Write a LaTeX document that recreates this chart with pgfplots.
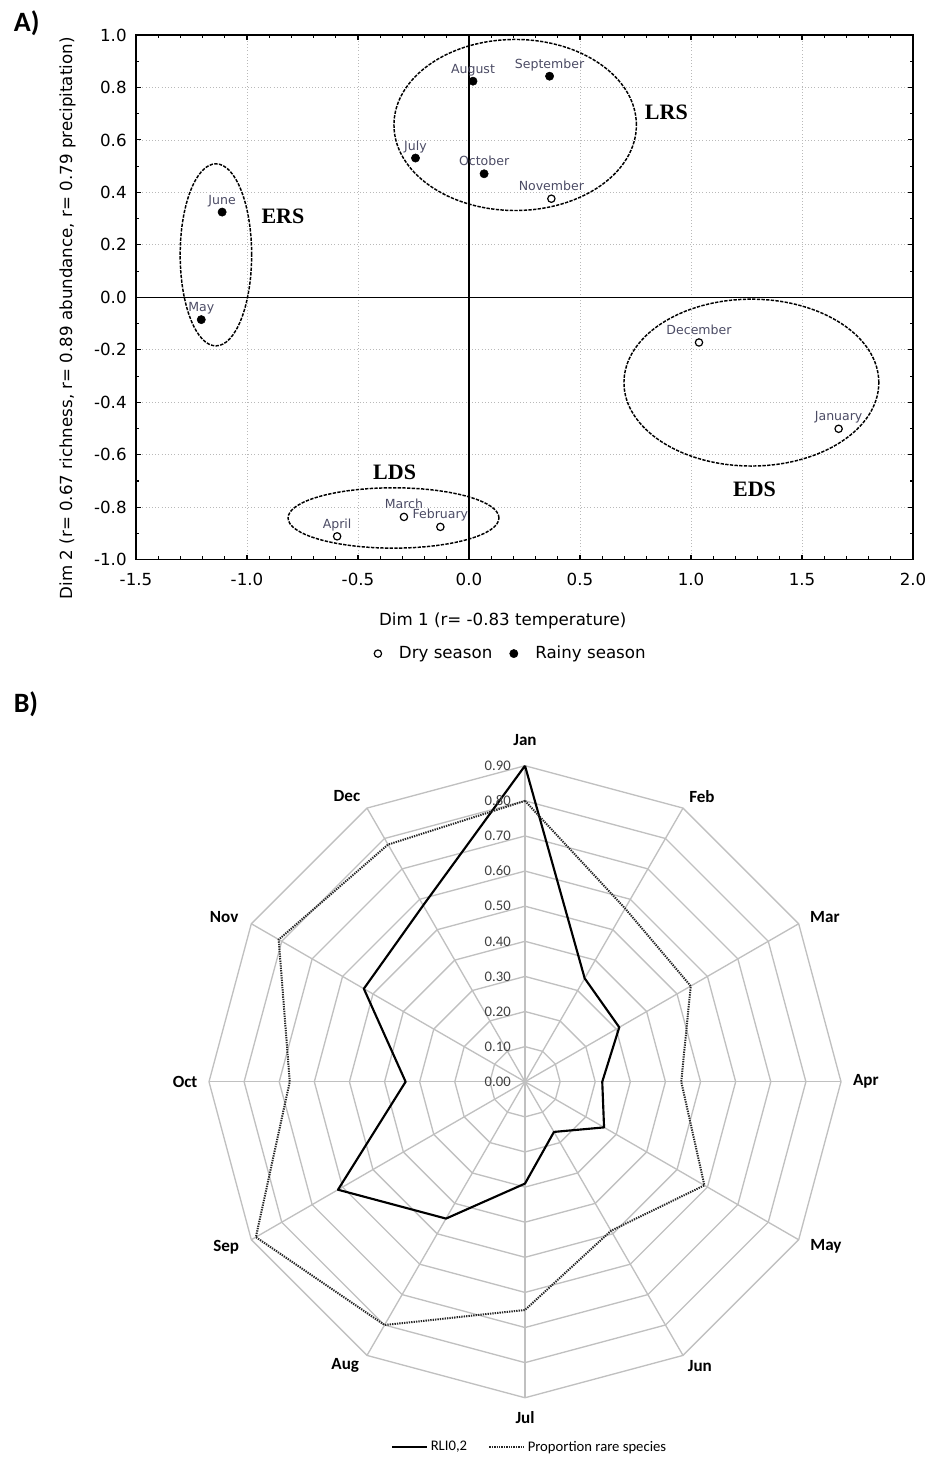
\documentclass[border=0pt]{standalone}
\usepackage{pgfplots}
\pgfplotsset{compat=1.18}
\usepackage{fontspec}
\setmainfont{DejaVu Sans}
\newfontfamily\calibri{Carlito}
\newfontfamily\timesf{Liberation Serif}
\definecolor{lblgray}{RGB}{75,75,100}
\definecolor{gridgray}{RGB}{192,192,192}
\begin{document}
\begin{tikzpicture}
\path[use as bounding box] (0,0) rectangle (700.5pt,-1092.75pt);
\node[font=\calibri\bfseries\fontsize{21}{24}\selectfont] at (20pt,-17.6pt) {A)};
\node[font=\calibri\bfseries\fontsize{21}{24}\selectfont] at (19.5pt,-528.5pt) {B)};

% ---------------- Panel A ----------------
\begin{axis}[
  at={(102pt,-26.25pt)}, anchor=north west,
  scale only axis, width=582.75pt, height=393.5pt,
  xmin=-1.5, xmax=2.0, ymin=-1.0, ymax=1.0,
  xtick={-1.5,-1,-0.5,0,0.5,1,1.5,2},
  ytick={-1,-0.8,-0.6,-0.4,-0.2,0,0.2,0.4,0.6,0.8,1},
  minor x tick num=4, minor y tick num=1,
  tick align=inside,
  major tick length=3.75pt, minor tick length=2.6pt,
  every tick/.style={black, line width=0.8pt},
  axis line style={line width=1.2pt},
  grid=major, major grid style={gray!55, dotted, line width=0.6pt},
  /pgf/number format/assume math mode=true,
  xticklabel style={font=\fontsize{12.5}{15}\selectfont, yshift=-6.5pt, /pgf/number format/.cd, fixed, fixed zerofill, precision=1},
  yticklabel style={font=\fontsize{12.5}{15}\selectfont, xshift=-3.5pt, /pgf/number format/.cd, fixed, fixed zerofill, precision=1},
  xlabel={Dim 1 (r= -0.83 temperature)},
  ylabel={Dim 2 (r= 0.67 richness, r= 0.89 abundance, r= 0.79 precipitation)},
  xlabel style={font=\fontsize{12.5}{15}\selectfont, at={(axis description cs:0.472,-0.117)}, anchor=center},
  ylabel style={font=\fontsize{12.5}{15}\selectfont, at={(axis description cs:-0.088,0.46)}, anchor=center},
  legend columns=2,
  legend style={draw=none, fill=none, at={(axis description cs:0.483,-0.179)}, anchor=center,
    font=\fontsize{12.5}{15}\selectfont,
    /tikz/every odd column/.append style={column sep=11pt},
    /tikz/every even column/.append style={column sep=11pt}},
  clip=false,
]
\addplot[black, line width=1pt, forget plot] coordinates {(-1.5,0) (2,0)};
\addplot[black, line width=1pt, forget plot] coordinates {(0,-1) (0,1)};

\addplot[only marks, mark=o, mark size=2.75pt, mark options={black, line width=0.9pt},
  nodes near coords, point meta=explicit symbolic,
  nodes near coords style={anchor=base, yshift=6pt, inner sep=0pt, font=\fontsize{9.4}{11}\selectfont, text=lblgray}]
  table[meta=lab] {
x y lab
0.371 0.376 November
1.036 -0.172 December
1.665 -0.501 January
-0.129 -0.875 February
-0.293 -0.837 March
-0.594 -0.911 April
};
\addlegendentry{Dry season}
\addplot[only marks, mark=*, mark size=3.1pt, mark options={black, fill=black},
  nodes near coords, point meta=explicit symbolic,
  nodes near coords style={anchor=base, yshift=6pt, inner sep=0pt, font=\fontsize{9.4}{11}\selectfont, text=lblgray}]
  table[meta=lab] {
x y lab
-1.206 -0.085 May
-1.112 0.325 June
-0.241 0.531 July
0.018 0.824 August
0.363 0.843 September
0.068 0.471 October
};
\addlegendentry{Rainy season}

\draw[black, line width=1.1pt, dash pattern=on 2.5pt off 1pt] (axis cs:-1.140,0.162) ellipse [x radius=0.161, y radius=0.347];
\draw[black, line width=1.1pt, dash pattern=on 2.5pt off 1pt] (axis cs:0.208,0.657) ellipse [x radius=0.546, y radius=0.326];
\draw[black, line width=1.1pt, dash pattern=on 2.5pt off 1pt] (axis cs:1.272,-0.325) ellipse [x radius=0.574, y radius=0.318];
\draw[black, line width=1.1pt, dash pattern=on 2.5pt off 1pt] (axis cs:-0.340,-0.841) ellipse [x radius=0.475, y radius=0.115];

\node[font=\timesf\bfseries\fontsize{16.5}{19}\selectfont] at (axis cs:-0.838,0.309) {ERS};
\node[font=\timesf\bfseries\fontsize{16.5}{19}\selectfont] at (axis cs:0.889,0.707) {LRS};
\node[font=\timesf\bfseries\fontsize{16.5}{19}\selectfont] at (axis cs:1.286,-0.732) {EDS};
\node[font=\timesf\bfseries\fontsize{16.5}{19}\selectfont] at (axis cs:-0.335,-0.666) {LDS};
\end{axis}

% ---------------- Panel B ----------------
\begin{axis}[
  at={(393.75pt,-811.3pt)}, anchor=center,
  scale only axis, width=474pt, height=474pt,
  xmin=-0.9, xmax=0.9, ymin=-0.9, ymax=0.9,
  hide axis, clip=false,
  legend columns=2,
  legend style={draw=none, fill=none, at={(axis description cs:0.508,-0.078)}, anchor=center,
    font=\calibri\fontsize{11}{13}\selectfont,
    /tikz/every odd column/.append style={column sep=0pt},
    /tikz/every even column/.append style={column sep=14pt}},
  legend image code/.code={\draw[#1] (0pt,0pt) -- (26pt,0pt);},
]
\pgfplotsinvokeforeach{0.1,0.2,0.3,0.4,0.5,0.6,0.7,0.8,0.9}{
\addplot[gridgray, line width=1pt, mark=none, data cs=polar, forget plot] coordinates {(90,#1) (60,#1) (30,#1) (0,#1) (-30,#1) (-60,#1) (-90,#1) (-120,#1) (-150,#1) (180,#1) (150,#1) (120,#1) (90,#1)};
}
\pgfplotsinvokeforeach{90,60,30,0,-30,-60}{
\addplot[gridgray, line width=1pt, mark=none, data cs=polar, forget plot] coordinates {(#1,0.9) (#1+180,0.9)};
}

\addplot[black, line width=1.6pt, mark=none, line join=round, data cs=polar] coordinates {
(90,0.90) (60,0.34) (30,0.31) (0,0.22) (-30,0.26) (-60,0.165) (-90,0.29)
(-120,0.45) (-150,0.615) (180,0.34) (150,0.53) (120,0.58) (90,0.90)};
\addlegendentry{RLI0,2}
\addplot[black!85, line width=1.5pt, mark=none, dash pattern=on 1pt off 0.8pt, data cs=polar] coordinates {
(90,0.80) (60,0.57) (30,0.545) (0,0.445) (-30,0.59) (-60,0.49) (-90,0.65)
(-120,0.80) (-150,0.885) (180,0.67) (150,0.81) (120,0.78) (90,0.80)};
\addlegendentry{Proportion rare species}

\node[anchor=east, inner sep=0pt, font=\calibri\fontsize{11}{13}\selectfont, text=black!75] at (axis cs:-0.04,0.0) {0.00};
\node[anchor=east, inner sep=0pt, font=\calibri\fontsize{11}{13}\selectfont, text=black!75] at (axis cs:-0.04,0.1) {0.10};
\node[anchor=east, inner sep=0pt, font=\calibri\fontsize{11}{13}\selectfont, text=black!75] at (axis cs:-0.04,0.2) {0.20};
\node[anchor=east, inner sep=0pt, font=\calibri\fontsize{11}{13}\selectfont, text=black!75] at (axis cs:-0.04,0.3) {0.30};
\node[anchor=east, inner sep=0pt, font=\calibri\fontsize{11}{13}\selectfont, text=black!75] at (axis cs:-0.04,0.4) {0.40};
\node[anchor=east, inner sep=0pt, font=\calibri\fontsize{11}{13}\selectfont, text=black!75] at (axis cs:-0.04,0.5) {0.50};
\node[anchor=east, inner sep=0pt, font=\calibri\fontsize{11}{13}\selectfont, text=black!75] at (axis cs:-0.04,0.6) {0.60};
\node[anchor=east, inner sep=0pt, font=\calibri\fontsize{11}{13}\selectfont, text=black!75] at (axis cs:-0.04,0.7) {0.70};
\node[anchor=east, inner sep=0pt, font=\calibri\fontsize{11}{13}\selectfont, text=black!75] at (axis cs:-0.04,0.8) {0.80};
\node[anchor=east, inner sep=0pt, font=\calibri\fontsize{11}{13}\selectfont, text=black!75] at (axis cs:-0.04,0.9) {0.90};

\node[font=\calibri\bfseries\fontsize{12.8}{15}\selectfont] at (axis cs:0,0.973) {Jan};
\node[font=\calibri\bfseries\fontsize{12.8}{15}\selectfont] at (axis cs:0.504,0.813) {Feb};
\node[font=\calibri\bfseries\fontsize{12.8}{15}\selectfont] at (axis cs:0.854,0.469) {Mar};
\node[font=\calibri\bfseries\fontsize{12.8}{15}\selectfont] at (axis cs:0.971,0) {Apr};
\node[font=\calibri\bfseries\fontsize{12.8}{15}\selectfont] at (axis cs:0.857,-0.468) {May};
\node[font=\calibri\bfseries\fontsize{12.8}{15}\selectfont] at (axis cs:0.498,-0.809) {Jun};
\node[font=\calibri\bfseries\fontsize{12.8}{15}\selectfont] at (axis cs:0,-0.957) {Jul};
\node[font=\calibri\bfseries\fontsize{12.8}{15}\selectfont] at (axis cs:-0.512,-0.809) {Aug};
\node[font=\calibri\bfseries\fontsize{12.8}{15}\selectfont] at (axis cs:-0.851,-0.471) {Sep};
\node[font=\calibri\bfseries\fontsize{12.8}{15}\selectfont] at (axis cs:-0.968,0) {Oct};
\node[font=\calibri\bfseries\fontsize{12.8}{15}\selectfont] at (axis cs:-0.857,0.469) {Nov};
\node[font=\calibri\bfseries\fontsize{12.8}{15}\selectfont] at (axis cs:-0.507,0.813) {Dec};
\end{axis}
\end{tikzpicture}
\end{document}
